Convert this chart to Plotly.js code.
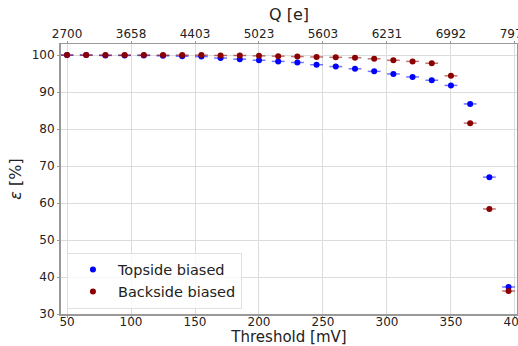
<!DOCTYPE html>
<html><head><meta charset="utf-8">
<script src="https://cdn.plot.ly/plotly-3.0.1.min.js"></script>
<style>html,body{margin:0;padding:0;background:#fff;overflow:hidden;width:518px;height:346px}#c{width:545px;height:346px}</style>
</head><body><div id="c"></div>
<script>
const thresholds = [50,65,80,95,110,125,140,155,170,185,200,215,230,245,260,275,290,305,320,335,350,365,380,395];
const topside = [100,100,99.9,99.9,99.9,99.8,99.7,99.6,99.2,98.9,98.6,98.3,98.0,97.4,96.9,96.3,95.6,94.9,94.1,93.2,91.8,86.8,67.0,37.3];
const backside = [100,100,100,100,100,100,100,100,99.9,99.9,99.8,99.7,99.6,99.5,99.4,99.3,99.0,98.6,98.3,97.8,94.4,81.6,58.4,36.2];
const xErr = 5;
const xTickVals = [50,100,150,200,250,300,350,400];
const qTickText = ['2700','3658','4403','5023','5603','6231','6992','7975'];

const font = {family:'DejaVu Sans, sans-serif', color:'#222'};
const f = s => Object.assign({size:s}, font);
const traces = [
 {x:thresholds, y:topside, type:'scatter', mode:'markers', name:'Topside biased',
  marker:{color:'#0000ff', size:6},
  error_x:{type:'constant', value:xErr, color:'rgba(0,0,255,0.55)', thickness:1.5, width:0},
  error_y:{type:'constant', value:0.1, color:'rgba(0,0,255,0.55)', thickness:1.5, width:0}},
 {x:thresholds, y:backside, type:'scatter', mode:'markers', name:'Backside biased',
  marker:{color:'#8b0000', size:6},
  error_x:{type:'constant', value:xErr, color:'rgba(139,0,0,0.55)', thickness:1.5, width:0},
  error_y:{type:'constant', value:0.1, color:'rgba(139,0,0,0.55)', thickness:1.5, width:0}},
 {x:[thresholds[0]], y:[topside[0]], xaxis:'x2', type:'scatter', mode:'markers', showlegend:false, hoverinfo:'skip', marker:{opacity:0}},
 {x:[thresholds[0]], y:[topside[0]], yaxis:'y2', type:'scatter', mode:'markers', showlegend:false, hoverinfo:'skip', marker:{opacity:0}}
];
const xr = [45.3, 401.6];
const layout = {
 width:545, height:346,
 margin:{l:61, r:28, t:44, b:32},
 paper_bgcolor:'#fff', plot_bgcolor:'#fff',
 font:f(12),
 showlegend:true,
 legend:{x:0.013, y:0.02, xanchor:'left', yanchor:'bottom', bgcolor:'rgba(255,255,255,0.8)', bordercolor:'#e0e0e0', borderwidth:1, font:f(14.5), itemwidth:40},
 xaxis:{range:xr, tickvals:xTickVals, showgrid:true, gridcolor:'#dcdcdc', gridwidth:1,
   zeroline:false, showline:true, linecolor:'#999', linewidth:2, ticks:'outside', ticklen:2, tickcolor:'#999',
   tickfont:f(12), ticklabelstandoff:-6,
   title:{text:'Threshold [mV]', font:f(15), standoff:8}},
 xaxis2:{overlaying:'x', side:'top', matches:'x', range:xr, tickvals:xTickVals, ticktext:qTickText,
   showgrid:false, zeroline:false, showline:true, linecolor:'#999', linewidth:1.5, ticks:'outside', ticklen:2, tickcolor:'#999',
   tickfont:f(12), ticklabelstandoff:-2,
   title:{text:'Q [e]', font:f(16), standoff:2}},
 yaxis:{range:[30,103], tickvals:[30,40,50,60,70,80,90,100], showgrid:true, gridcolor:'#dcdcdc', gridwidth:1,
   zeroline:false, showline:true, linecolor:'#999', linewidth:2, ticks:'outside', ticklen:2, tickcolor:'#999',
   tickfont:f(12),
   title:{text:'<i>ε</i> [%]', font:f(16), standoff:6}},
 yaxis2:{overlaying:'y', side:'right', range:[30,103], showgrid:false, zeroline:false, showline:true, linecolor:'#999', linewidth:1.5, showticklabels:false, ticks:''}
};
Plotly.newPlot('c', traces, layout, {displayModeBar:false, staticPlot:true});
</script></body></html>
